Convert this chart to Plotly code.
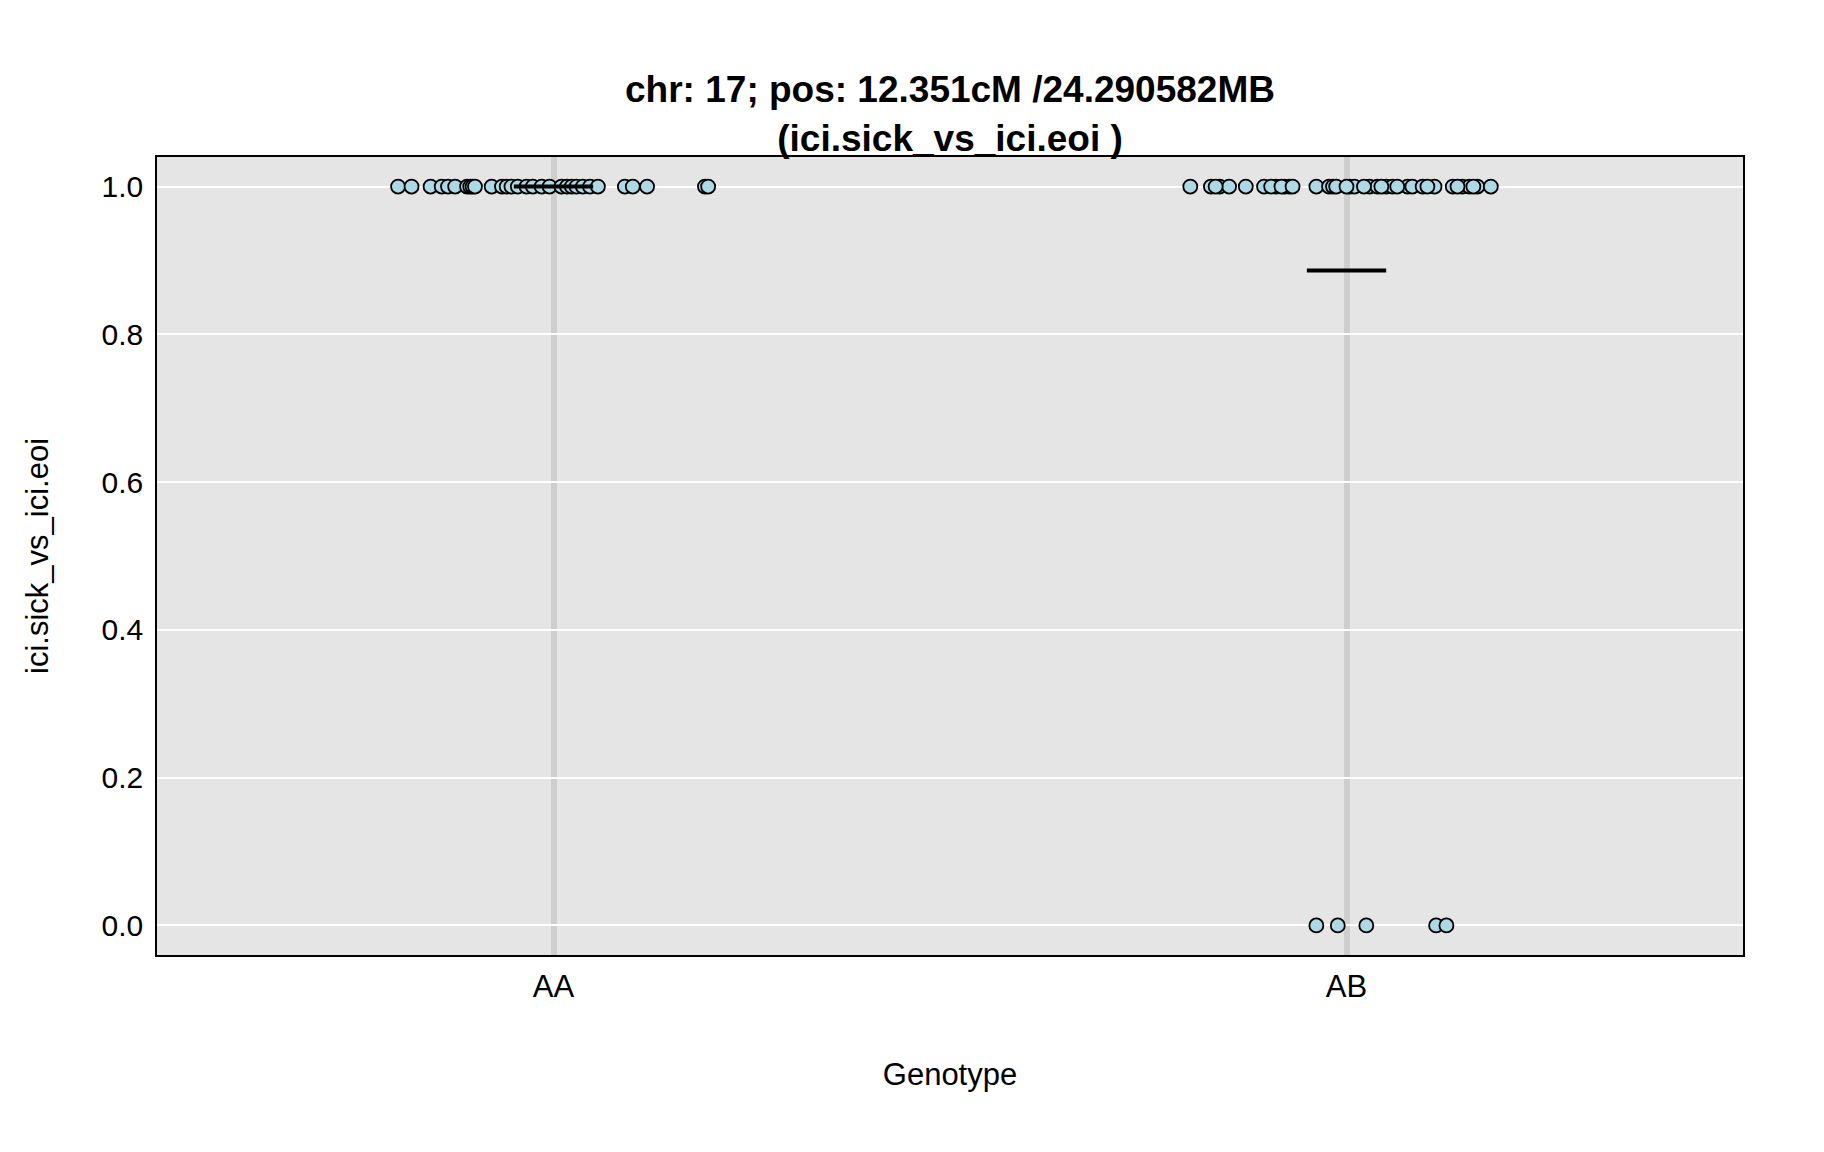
import numpy as np
import plotly.graph_objects as go

categories = ["AA", "AB"]
cat_pos = [1, 2]

# AA group: jittered x positions and phenotype values
aa_x = [0.804, 0.821, 0.845, 0.859, 0.867, 0.876, 0.891, 0.895, 0.898, 0.901,
        0.922, 0.935, 0.941, 0.947, 0.955, 0.966, 0.974, 0.985, 0.995, 1.010,
        1.017, 1.023, 1.029, 1.037, 1.046, 1.056, 1.090, 1.100, 1.118, 1.191, 1.195]
aa_y = [1] * len(aa_x)

# AB group
ab_x = [1.803, 1.829, 1.840, 1.852, 1.873, 1.896, 1.911, 1.922, 1.928, 1.962,
        1.978, 1.983, 2.004, 2.010, 2.029, 2.039, 2.050, 2.058, 2.077, 2.083,
        2.096, 2.111, 2.134, 2.146, 2.155, 2.165, 2.182,
        1.835, 1.905, 1.918, 1.932, 1.987, 2.000, 2.022, 2.044, 2.064, 2.102, 2.140, 2.160,
        1.962, 1.989, 2.025, 2.113, 2.126]
ab_y = [1] * 39 + [0] * 5

y_ticks = [0.0, 0.2, 0.4, 0.6, 0.8, 1.0]

fig = go.Figure()
marker = dict(size=14, color="#add8e6", line=dict(color="black", width=1.8))
fig.add_trace(go.Scatter(x=aa_x, y=aa_y, mode="markers", marker=marker, showlegend=False))
fig.add_trace(go.Scatter(x=ab_x, y=ab_y, mode="markers", marker=marker, showlegend=False))

for pos, ys in zip(cat_pos, [aa_y, ab_y]):
    m = float(np.mean(ys))
    fig.add_trace(go.Scatter(x=[pos - 0.05, pos + 0.05], y=[m, m], mode="lines",
                             line=dict(color="black", width=4), showlegend=False))

font = "Liberation Sans, Arial, Helvetica, sans-serif"
fig.update_layout(
    width=1824, height=1152,
    paper_bgcolor="white", plot_bgcolor="#e5e5e5",
    margin=dict(l=149, r=89, t=149, b=205),
    title=dict(text="<b>chr: 17; pos: 12.351cM /24.290582MB<br>(ici.sick_vs_ici.eoi )</b>",
               x=0.5, xanchor="center", xref="paper", y=0.918, yanchor="top",
               font=dict(family=font, size=37, color="black")),
    font=dict(family=font, color="black"),
)
fig.update_xaxes(range=[0.5, 2.5], tickvals=cat_pos, ticktext=categories,
                 showgrid=True, gridcolor="#cecece", gridwidth=6, zeroline=False,
                 showline=True, linecolor="black", linewidth=1.5, mirror=True,
                 ticks="", tickfont=dict(size=31), ticklabelstandoff=3,
                 title=dict(text="Genotype", font=dict(size=31), standoff=60))
fig.update_yaxes(range=[-0.04, 1.04], tickvals=y_ticks, tickformat=".1f",
                 showgrid=True, gridcolor="white", gridwidth=1.5, zeroline=False,
                 showline=True, linecolor="black", linewidth=1.5, mirror=True,
                 ticks="", tickfont=dict(size=30), ticklabelstandoff=6,
                 title=dict(text="ici.sick_vs_ici.eoi", font=dict(size=31), standoff=44))

fig.write_html("out.html")
